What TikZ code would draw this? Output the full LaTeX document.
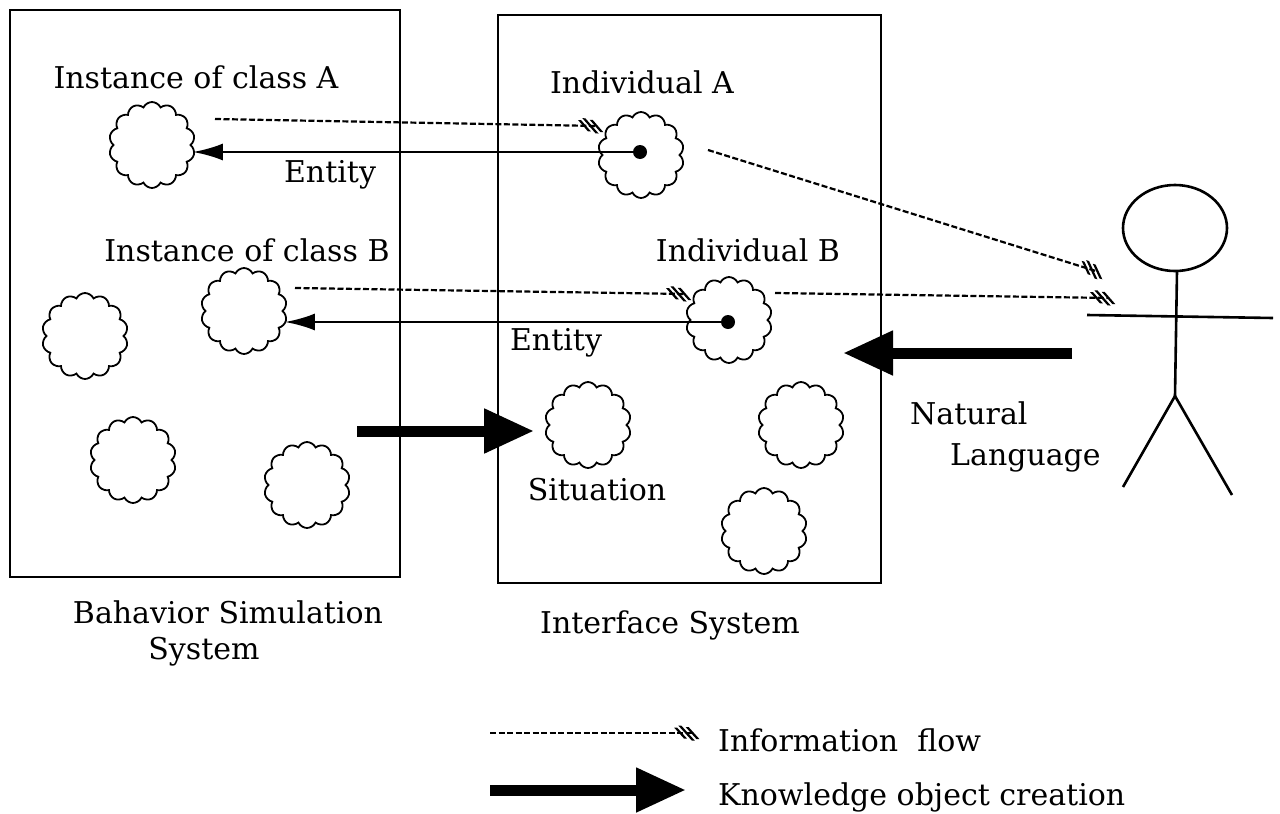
\documentclass[tikz,border=0pt]{standalone}
\usepackage{fontspec}
\setmainfont{DejaVu Serif}
\usetikzlibrary{arrows.meta,shapes.symbols}
\begin{document}
\begin{tikzpicture}[x=1pt,y=-1pt,
  blob/.style={cloud,cloud puffs=14,cloud puff arc=130,aspect=1,draw,line width=1.8pt,minimum size=86pt,inner sep=0pt},
  lbl/.style={font=\fontsize{30}{36}\selectfont,inner sep=0pt},
  box/.style={line width=2.6pt},
  dot/.style={circle,fill,inner sep=0pt,minimum size=14pt},
  info/.style={line width=2.2pt,dash pattern=on 6pt off 2.5pt,
    -{Bar[width=11pt,line width=3pt,slant=-0.9,sep=3pt]Bar[width=15pt,line width=3pt,slant=-0.9,sep=3pt]Bar[width=12pt,line width=3pt,slant=-0.9]}},
  entity/.style={line width=2.6pt,-{Latex[length=30pt,width=17pt]}},
  make/.style={line width=11pt,-{Triangle[length=50pt,width=42pt]}}]
\useasboundingbox (0,0) rectangle (1280,814);
% two systems
\draw[box] (10,10) rectangle (400,577);
\draw[box] (498,15) rectangle (881,583);
\node[lbl] (bss) at (228,612) {Bahavior Simulation};
\node[lbl] (bss2) at (204,652) {System};
\node[lbl] (ifs) at (670,625) {Interface System};
% knowledge objects
\node[blob] (instA) at (152,145) {};
\node[blob] (instB) at (244,311) {};
\node[blob] (c1) at (85,336) {};
\node[blob] (c2) at (133,460) {};
\node[blob] (c3) at (307,485) {};
\node[blob] (indA) at (641,155) {};
\node[blob] (indB) at (729,320) {};
\node[blob] (sit) at (588,425) {};
\node[blob] (c4) at (801,425) {};
\node[blob] (c5) at (764,531) {};
\node[dot] (dA) at (640,152) {};
\node[dot] (dB) at (728,322) {};
\node[lbl] at (196,77) {Instance of class A};
\node[lbl] at (247,250) {Instance of class B};
\node[lbl] at (642,82) {Individual A};
\node[lbl] at (748,250) {Individual B};
\node[lbl] (entA) at (330,175) {Entity};
\node[lbl] (entB) at (556,343) {Entity};
\node[lbl] at (597,490) {Situation};
% entities
\draw[entity] (dA.center) -- ([xshift=1pt]dA.center -| instA.east);
\draw[entity] (dB.center) -- ([xshift=1pt]dB.center -| instB.east);
% information flow
\coordinate (iA0) at (215,119);
\coordinate (iA1) at (598,126);
\coordinate (iB0) at (295,288);
\coordinate (iB1) at (686,294);
\coordinate (uA0) at (708,150);
\coordinate (uA1) at (1099,272);
\coordinate (uB0) at (775,293);
\coordinate (uB1) at (1110,298);
\draw[info] (iA0) -- (iA1);
\draw[info] (iB0) -- (iB1);
\draw[info] (uA0) -- (uA1);
\draw[info] (uB0) -- (uB1);
% knowledge object creation
\coordinate (k0) at (357,431);
\draw[make] (k0) -- ([xshift=-14pt]sit.west |- k0);
\coordinate (n0) at (1072,353);
\coordinate (n1) at (843,353);
\draw[make] (n0) -- (n1);
\node[lbl,anchor=west] (nl1) at (910,413) {Natural};
\node[lbl,anchor=west] (nl2) at (950,458) {Language};
% user
\draw[line width=2.6pt] (1175,228) ellipse (52 and 43);
\draw[line width=2.6pt] (1177,271) -- (1175,396);
\draw[line width=2.6pt] (1087,315) -- (1273,318);
\draw[line width=2.6pt] (1123,487) -- (1175,396) -- (1232,495);
% legend
\coordinate (l0) at (490,733);
\coordinate (l1) at (694,733);
\draw[info] (l0) -- (l1);
\node[lbl,anchor=west] (lg1) at (718,740) {Information\ \ flow};
\coordinate (m0) at (490,790);
\coordinate (m1) at (686,790);
\draw[make] (m0) -- (m1);
\node[lbl,anchor=west] (lg2) at (718,797) {Knowledge\ object\ creation};
\end{tikzpicture}
\end{document}
